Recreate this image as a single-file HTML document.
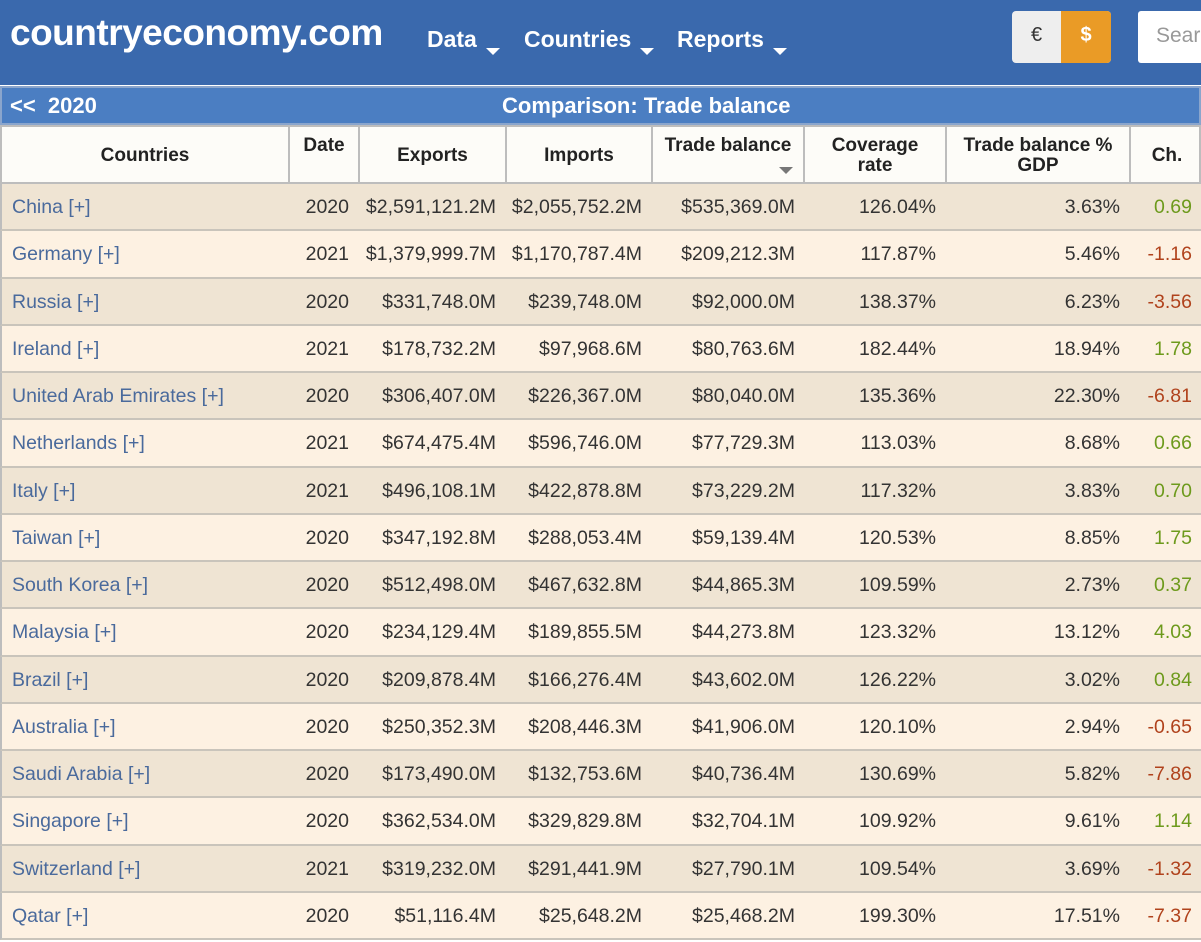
<!DOCTYPE html>
<html><head><meta charset="utf-8"><style>
*{margin:0;padding:0;box-sizing:border-box}
body{width:1201px;height:942px;overflow:hidden;background:#fff;font-family:"Liberation Sans",sans-serif;position:relative}
.top{position:absolute;left:0;top:0;width:1201px;height:85px;background:#3a69ad}
.logo{position:absolute;left:10px;top:12px;color:#fff;font-weight:bold;font-size:37px;letter-spacing:-0.5px}
.nav{position:absolute;top:26px;color:#fff;font-weight:bold;font-size:23px}
.nav:after{content:"";display:inline-block;margin-left:9px;border-left:7px solid transparent;border-right:7px solid transparent;border-top:7px solid #fff;vertical-align:-8px}
.cur{position:absolute;left:1012px;top:11px;width:99px;height:52px;border-radius:4px;overflow:hidden;background:#eeeeee}
.cur div{position:absolute;top:0;height:52px;line-height:48px;text-align:center;font-size:20px}
.search{position:absolute;left:1138px;top:11px;width:70px;height:52px;background:#fff;border-radius:3px;color:#999;font-size:21px;line-height:50px;padding-left:18px}
.bar{position:absolute;left:0;top:86px;width:1201px;height:39px;background:#4b7ec2;color:#fff;font-weight:bold;font-size:22px;line-height:36px;border:2px solid #8aa5cc}
.hdr{position:absolute;left:0;top:125px;width:1201px;height:59px;background:#fdfcf8;border:2px solid #bdbdbd}
.h{position:absolute;top:0;height:57px;border-right:2px solid #bdbdbd;font-weight:bold;font-size:19px;color:#222;text-align:center;display:flex;align-items:center;justify-content:center;line-height:20px}
.row{position:absolute;left:0;width:1201px;height:47.25px;border-bottom:2px solid #c9c4bb;border-left:2px solid #bdbdbd;font-size:19.5px;color:#333}
.row span{position:absolute;top:12px;white-space:nowrap}
.c{left:10px;color:#4a6a9c}
.r{text-align:right}
.g{color:#6d9a1c}.d{color:#b0421c}
</style></head><body>
<div class="top">
<div class="logo">countryeconomy.com</div>
<div class="nav" style="left:427px">Data</div>
<div class="nav" style="left:524px">Countries</div>
<div class="nav" style="left:677px">Reports</div>
<div class="cur"><div style="left:0;width:49px;color:#333">€</div><div style="left:49px;width:50px;background:#ea9b26;color:#fff;font-weight:bold">$</div></div>
<div class="search">Search</div>
</div>
<div class="bar"><span style="position:absolute;left:8px">&lt;&lt;&nbsp; 2020</span><span style="position:absolute;left:500px">Comparison: Trade balance</span></div>
<div class="hdr">
<div class="h" style="left:0;width:288px">Countries</div>
<div class="h" style="left:288px;width:70px;align-items:flex-start;padding-top:9px">Date</div>
<div class="h" style="left:358px;width:147px">Exports</div>
<div class="h" style="left:505px;width:146px">Imports</div>
<div class="h" style="left:651px;width:152px;align-items:flex-start;padding-top:9px">Trade balance<span style="position:absolute;right:10px;top:40px;border-left:7px solid transparent;border-right:7px solid transparent;border-top:7px solid #777"></span></div>
<div class="h" style="left:803px;width:142px">Coverage<br>rate</div>
<div class="h" style="left:945px;width:184px">Trade balance %<br>GDP</div>
<div class="h" style="left:1129px;width:72px;border-right:none">Ch.</div>
</div>
<div id="rows"></div>
<script>
var d=[["China","2020","$2,591,121.2M","$2,055,752.2M","$535,369.0M","126.04%","3.63%","0.69"],
["Germany","2021","$1,379,999.7M","$1,170,787.4M","$209,212.3M","117.87%","5.46%","-1.16"],
["Russia","2020","$331,748.0M","$239,748.0M","$92,000.0M","138.37%","6.23%","-3.56"],
["Ireland","2021","$178,732.2M","$97,968.6M","$80,763.6M","182.44%","18.94%","1.78"],
["United Arab Emirates","2020","$306,407.0M","$226,367.0M","$80,040.0M","135.36%","22.30%","-6.81"],
["Netherlands","2021","$674,475.4M","$596,746.0M","$77,729.3M","113.03%","8.68%","0.66"],
["Italy","2021","$496,108.1M","$422,878.8M","$73,229.2M","117.32%","3.83%","0.70"],
["Taiwan","2020","$347,192.8M","$288,053.4M","$59,139.4M","120.53%","8.85%","1.75"],
["South Korea","2020","$512,498.0M","$467,632.8M","$44,865.3M","109.59%","2.73%","0.37"],
["Malaysia","2020","$234,129.4M","$189,855.5M","$44,273.8M","123.32%","13.12%","4.03"],
["Brazil","2020","$209,878.4M","$166,276.4M","$43,602.0M","126.22%","3.02%","0.84"],
["Australia","2020","$250,352.3M","$208,446.3M","$41,906.0M","120.10%","2.94%","-0.65"],
["Saudi Arabia","2020","$173,490.0M","$132,753.6M","$40,736.4M","130.69%","5.82%","-7.86"],
["Singapore","2020","$362,534.0M","$329,829.8M","$32,704.1M","109.92%","9.61%","1.14"],
["Switzerland","2021","$319,232.0M","$291,441.9M","$27,790.1M","109.54%","3.69%","-1.32"],
["Qatar","2020","$51,116.4M","$25,648.2M","$25,468.2M","199.30%","17.51%","-7.37"]];
var R=[349,496,642,795,936,1120,1192],h="";
d.forEach(function(r,i){
h+='<div class="row" style="top:'+(184+i*47.25)+'px;background:'+(i%2?'#fdf1e2':'#efe4d3')+'"><span class="c">'+r[0]+' [+]</span>';
for(var j=1;j<8;j++){var cl=j==7?(r[7][0]=='-'?'d':'g'):'';h+='<span class="r '+cl+'" style="right:'+(1201-R[j-1])+'px">'+r[j]+'</span>';}
h+='</div>';});
document.getElementById('rows').innerHTML=h;
</script>
</body></html>
